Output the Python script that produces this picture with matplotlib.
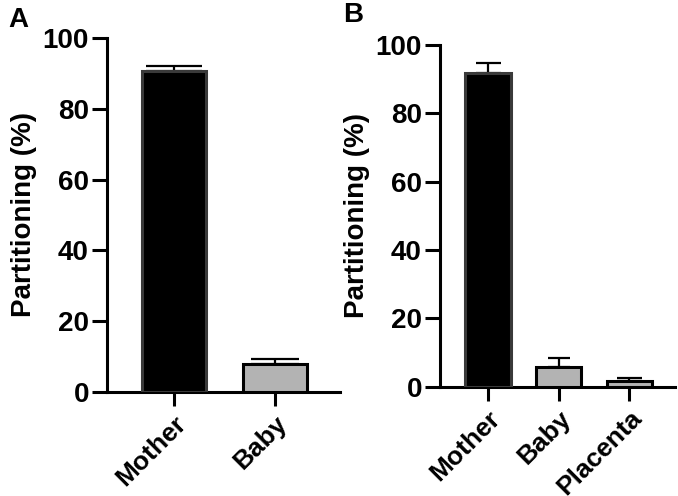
import matplotlib
matplotlib.use("Agg")
import matplotlib.pyplot as plt

plt.rcParams['font.family'] = ['Liberation Sans', 'DejaVu Sans']
plt.rcParams['font.weight'] = 'bold'

cats_a = ["Mother", "Baby"]
vals_a = [90.8, 7.9]
errs_a = [1.3, 1.3]

cats_b = ["Mother", "Baby", "Placenta"]
vals_b = [91.9, 5.9, 1.8]
errs_b = [2.9, 2.6, 0.7]

colors_a = ["black", "#b3b3b3"]
colors_b = ["black", "#b3b3b3", "#b3b3b3"]
edges_a = ["#3a3a3a", "black"]
edges_b = ["#3a3a3a", "black", "black"]

W, H = 678, 496
fig = plt.figure(figsize=(W / 100, H / 100), dpi=100)

def px(l, r, b, t):
    return [l / W, 1 - b / H, (r - l) / W, (b - t) / H]

axA = fig.add_axes(px(107, 340, 392, 38))
axB = fig.add_axes(px(440, 675, 386.7, 45))

def style(ax, cats, vals, errs, colors, edges, xlim, caps):
    x = list(range(len(cats)))
    ax.bar(x, vals, width=0.64, color=colors, edgecolor=edges, linewidth=2.2, zorder=3)
    for xi, v, e, c in zip(x, vals, errs, caps):
        ax.errorbar(xi, v, yerr=[[0], [e]], fmt='none', ecolor='black',
                    elinewidth=1.6, capsize=c, capthick=1.6, zorder=2)
    ax.set_xlim(*xlim)
    ax.set_ylim(0, 100)
    ax.set_yticks([0, 20, 40, 60, 80, 100])
    ax.set_xticks(x)
    for s in ['top', 'right']:
        ax.spines[s].set_visible(False)
    for s in ['left', 'bottom']:
        ax.spines[s].set_linewidth(2.2)
    ax.tick_params(axis='y', length=11, width=2.2, labelsize=20, pad=2)
    ax.tick_params(axis='x', length=10, width=2.2, labelsize=19, pad=4)
    ax.set_xticklabels(cats, rotation=45, ha='right', rotation_mode='anchor')
    ax.set_ylabel("Partitioning (%)", fontsize=20, fontweight='bold', labelpad=4)

style(axA, cats_a, vals_a, errs_a, colors_a, edges_a, (-0.663, 1.644), [20, 17])
style(axB, cats_b, vals_b, errs_b, colors_b, edges_b, (-0.68, 2.65), [9, 8, 9])

fig.text(8 / W, 1 - 20 / H, "A", fontsize=20, fontweight='bold', va='center', ha='left')
fig.text(343 / W, 1 - 15 / H, "B", fontsize=20, fontweight='bold', va='center', ha='left')

fig.savefig("out.png", dpi=100)
